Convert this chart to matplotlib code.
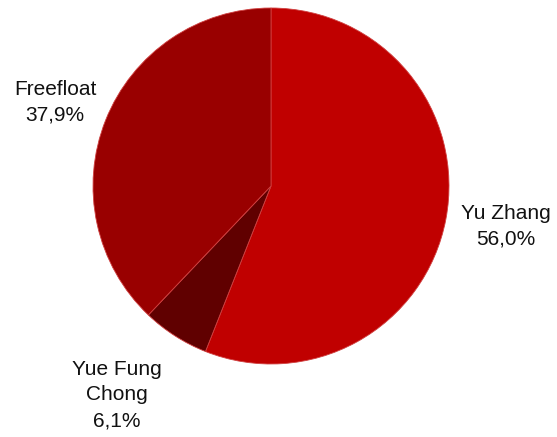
import matplotlib.pyplot as plt

# Aktionärsstruktur
labels = ['Yu Zhang', 'Yue Fung\nChong', 'Freefloat']
shares = [56.0, 6.1, 37.9]
colors = ['#C00000', '#600000', '#990000']

# Label-Positionen in Pixeln relativ zur Kreismitte
label_pos = [(235, -40), (-154, -209), (-216, 84)]

plt.rcParams['font.family'] = ['Liberation Sans', 'DejaVu Sans']

fig = plt.figure(figsize=(5.57, 4.37), dpi=100)
ax = fig.add_axes([0, 0, 1, 1])

ax.pie(shares, colors=colors, startangle=90, counterclock=False,
       radius=178, center=(0, 0),
       wedgeprops=dict(edgecolor='#D04040', linewidth=0.6))

for lab, val, (x, y) in zip(labels, shares, label_pos):
    txt = lab + '\n' + f'{val:.1f}%'.replace('.', ',')
    ax.text(x, y, txt, ha='center', va='center', fontsize=15,
            linespacing=1.45, color='#111111')

ax.set_xlim(-271, 557 - 271)
ax.set_ylim(-(437 - 186), 186)
ax.set_aspect('equal')
ax.axis('off')

fig.savefig('out.png', dpi=100)
